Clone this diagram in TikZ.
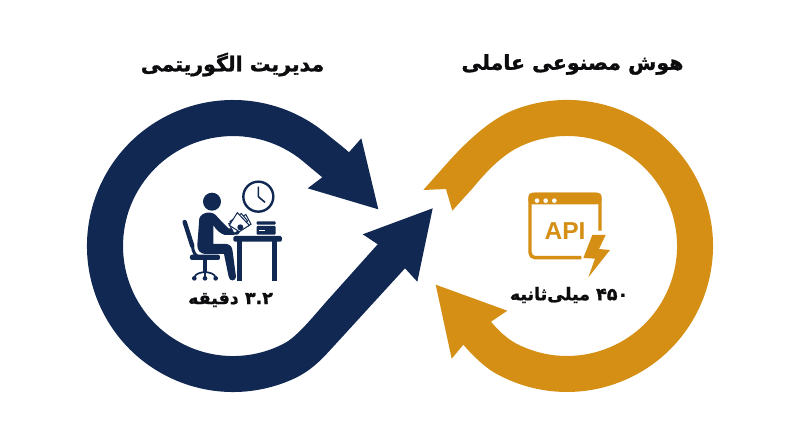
\documentclass[tikz,border=0pt]{standalone}
\usepackage{fontspec}
\setmainfont{Liberation Sans}
\newfontfamily\arabicfont[Script=Arabic,BoldFeatures={FakeBold=1.3}]{DejaVu Sans}
\TeXXeTstate=1
\definecolor{ringnavy}{RGB}{16,40,82}
\definecolor{ringgold}{RGB}{212,143,20}
\definecolor{labelblack}{RGB}{12,12,14}
\tikzset{
  titlelabel/.style={font=\arabicfont\bfseries\fontsize{20.5}{25}\selectfont,text=labelblack,inner sep=0pt},
  timelabel/.style={font=\arabicfont\bfseries\fontsize{17.5}{20}\selectfont,text=labelblack,inner sep=0pt}
}

\begin{document}
\begin{tikzpicture}[x=1pt,y=-1pt]
  \useasboundingbox (0,0) rectangle (800,447);
  \fill[white] (0,0) rectangle (800,447);
  \fill[ringnavy]
    (378.3,209.3) -- (307.7,188.3) -- (322.3,177.3) -- (306.6,164.3)
    arc[start angle=-48,end angle=-298,radius=110]
    .. controls (297,336.5) and (312,318) .. (326,302)
    -- (377.7,244.3) -- (362.7,234.3) -- (432.7,208.3) -- (417.3,281.7) -- (405,268.3)
    -- (333,347)
    .. controls (322,359) and (312,370) .. (294.7,378.3)
    arc[start angle=-295,end angle=-50,radius=146]
    .. controls (334,140) and (342,146) .. (349,152.3)
    -- (361.3,138.3) -- cycle;
  \fill[ringgold]
    (435.7,284.7) -- (507.3,310.7) -- (491,321.7)
    .. controls (497,329) and (506,338) .. (515.4,343.1)
    arc[start angle=118,end angle=-115,radius=110]
    .. controls (505,153.5) and (490,167) .. (472.4,188.5)
    -- (452.3,210.7) -- (446,189) -- (423.3,190) -- (450,160)
    .. controls (470,138) and (492,119) .. (512.3,110.6)
    arc[start angle=-112,end angle=120,radius=146]
    .. controls (485.3,367.4) and (473,356) .. (463.3,344.7)
    -- (451.7,358.7) -- cycle;

  \begin{scope}[shift={(150,160)},x=0.3333pt,y=-0.3333pt]
    \draw[ringnavy,line width=2.4pt] (325,110) circle[radius=45];
    \draw[ringnavy,line width=1.6pt] (325,80) -- (325,110) -- (345,127);
    \fill[ringnavy] (186,125) circle[radius=27];
    \fill[ringnavy] (148,175) .. controls (155,155) and (190,150) .. (203,172)
      -- (235,205) -- (262,205) .. controls (272,210) and (272,220) .. (262,224)
      -- (225,225) .. controls (212,222) and (198,210) .. (190,195) -- (190,252)
      -- (230,252) .. controls (242,254) and (247,262) .. (248,275)
      -- (258,350) .. controls (258,364) and (238,366) .. (236,350)
      -- (222,282) -- (165,282) .. controls (150,280) and (142,272) .. (142,255) -- cycle;
    \draw[ringnavy,line width=4.4pt,line cap=round] (104,186) -- (127,258);
    \draw[ringnavy,line width=3pt] (127,258) .. controls (130,278) and (135,288) .. (150,292);
    \fill[ringnavy,rounded corners=2pt] (120,284) rectangle (210,300);
    \fill[ringnavy] (160,300) rectangle (170,338);
    \draw[ringnavy,line width=1.7pt] (133,352) .. controls (138,340) and (150,338) .. (165,336)
      .. controls (180,338) and (192,340) .. (197,352);
    \draw[ringnavy,line width=1.7pt] (165,336) -- (165,352);
    \foreach \wheelx in {133,165,197}
      \fill[ringnavy] (\wheelx,355) circle[radius=7];
    \draw[ringnavy,fill=white,line width=1pt,rotate around={28:(270,190)}]
      (240,175) rectangle (298,208);
    \draw[ringnavy,fill=white,line width=1pt,rotate around={12:(262,200)}]
      (244,180) -- (282,164) -- (296,190) -- (258,208) -- cycle;
    \draw[ringnavy,fill=white,line width=1pt]
      (238,196) -- (262,158) -- (298,196) -- (268,215) -- cycle;
    \fill[ringnavy] (271,202) circle[radius=9];
    \fill[ringnavy,rounded corners=1.5pt] (250,228) rectangle (396,245);
    \fill[ringnavy] (262,240) rectangle (276,362);
    \fill[ringnavy] (367,240) rectangle (381,362);
    \fill[ringnavy,rounded corners=1pt] (320,184) rectangle (377,194);
    \fill[ringnavy,rounded corners=1pt] (320,198) rectangle (377,224);
    \fill[white] (328,209) rectangle (346,214);
  \end{scope}

  \begin{scope}[shift={(490,170)},x=0.3333pt,y=-0.3333pt]
    \draw[ringgold,line width=3.4pt,rounded corners=5pt]
      (330,182) -- (330,73) -- (120,73) -- (120,263) -- (274,263);
    \fill[ringgold,rounded corners=4pt] (115,68) -- (335,68) -- (335,103) -- (115,103) -- cycle;
    \foreach \dotx in {141,167,193}
      \fill[white] (\dotx,92) circle[radius=7];
    \node[text=ringgold,font=\bfseries\fontsize{24.5}{28}\selectfont,inner sep=0pt] (apitext) at (225,182) {API};
    \fill[ringgold] (307,195) -- (347,195) -- (327,237) -- (360,240) -- (295,322)
      -- (315,266) -- (280,264) -- cycle;
  \end{scope}

  \node[titlelabel] (navytitle) at (232.5,64.5) {\beginR مدیریت الگوریتمی\endR};
  \node[titlelabel] (goldtitle) at (572.5,64.5) {\beginR هوش مصنوعی عاملی\endR};
  \node[timelabel] (navytime) at (230.5,300) {\beginR\beginL ۳.۲\endL{} دقیقه\endR};
  \node[timelabel] (goldtime) at (569,295) {\beginR\beginL ۴۵۰\endL{} میلی‌ثانیه\endR};
\end{tikzpicture}
\end{document}
